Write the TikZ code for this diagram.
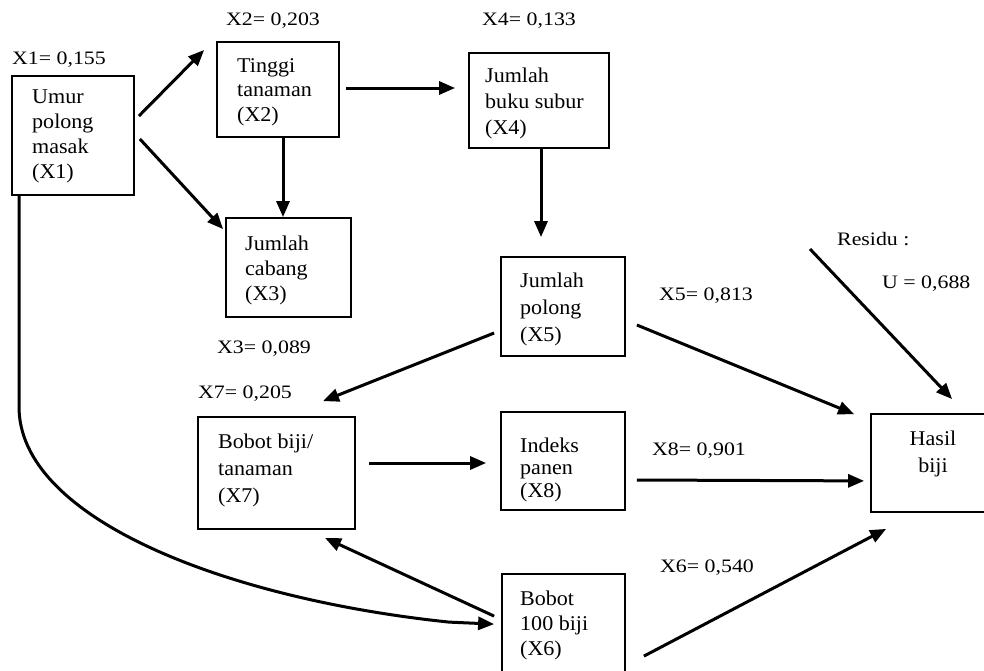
\documentclass[tikz,border=0pt]{standalone}
\usepackage{fontspec}
\usetikzlibrary{arrows.meta,calc}
\newfontfamily\boxfam[FakeStretch=1.05]{Liberation Serif}
\newfontfamily\labfam[FakeStretch=1.15]{Liberation Serif}
\tikzset{
  box/.style={draw, line width=1.8pt, inner sep=0pt},
  txt/.style={anchor=base west, inner sep=0pt, align=left, font=\boxfam\fontsize{21}{#1}\selectfont},
  lab/.style={anchor=base west, inner sep=0pt, font=\labfam\fontsize{19}{22}\selectfont},
  arr/.style={line width=3pt, -{Triangle[length=16pt,width=13pt]}}
}
\begin{document}
\begin{tikzpicture}[x=1pt,y=-1pt]
\useasboundingbox (0,0) rectangle (984,670);
% boxes
\node[box, minimum width=122pt, minimum height=119pt] (x1) at (73,135.5) {};
\node[box, minimum width=122pt, minimum height=95pt] (x2) at (278,89.5) {};
\node[box, minimum width=140pt, minimum height=95pt] (x4) at (539,100.5) {};
\node[box, minimum width=125pt, minimum height=99pt] (x3) at (288.5,267.5) {};
\node[box, minimum width=124pt, minimum height=99pt] (x5) at (563,306.5) {};
\node[box, minimum width=157pt, minimum height=112pt] (x7) at (276.5,473) {};
\node[box, minimum width=124pt, minimum height=98pt] (x8) at (563,461) {};
\node[box, minimum width=123pt, minimum height=102pt] (x6) at (563.5,625) {};
\node[box, minimum width=119pt, minimum height=98pt] (hasil) at (930.5,463) {};
% box texts (anchor = baseline of the last line)
\node[txt=25] (t1) at (32,178) {Umur\\polong\\masak\\(X1)};
\node[txt=24.5] (t2) at (237,121) {Tinggi\\tanaman\\(X2)};
\node[txt=26] (t4) at (485,134) {Jumlah\\buku subur\\(X4)};
\node[txt=25] (t3) at (245,300) {Jumlah\\cabang\\(X3)};
\node[txt=27] (t5) at (520,341) {Jumlah\\polong\\(X5)};
\node[txt=27] (t7) at (218,502) {Bobot biji/\\tanaman\\(X7)};
\node[txt=22.5] (t8) at (520,497) {Indeks\\panen\\(X8)};
\node[txt=25] (t6) at (520,655) {Bobot\\100 biji\\(X6)};
\node[anchor=base, inner sep=0pt, align=center, font=\boxfam\fontsize{21}{27}\selectfont] (th) at (933,472) {Hasil\\biji};
% labels
\node[lab] (l1) at (12,64) {X1= 0,155};
\node[lab] (l2) at (226,25) {X2= 0,203};
\node[lab] (l4) at (482,25) {X4= 0,133};
\node[lab] (l3) at (217,353) {X3= 0,089};
\node[lab] (l7) at (198,398) {X7= 0,205};
\node[lab] (l5) at (659,300) {X5= 0,813};
\node[lab] (lr) at (837,245) {Residu :};
\node[lab] (lu) at (882,288) {U = 0,688};
\node[lab] (l8) at (652,455) {X8= 0,901};
\node[lab] (l6) at (660,572) {X6= 0,540};
\coordinate (res) at (810,249);
% arrows
\draw[arr] ($(x1.east)+(4,-19.5)$) -- ($(x2.west)+(-12,-39.5)$);
\draw[arr] ($(x1.east)+(5,3.5)$) -- ($(x3.north west)+(-2,12)$);
\draw[arr] ($(x2.south)+(5,0)$) -- ($(x3.north)+(-5.5,0)$);
\draw[arr] ($(x2.east)+(6,-1.5)$) -- ($(x4.west)+(-13,-12.5)$);
\draw[arr] ($(x4.south)+(2,0)$) -- ($(x5.north)+(-22,-19)$);
\draw[arr] ($(x5.west)+(-6,26.5)$) -- ($(x7.north)+(46.5,-15)$);
\draw[arr] ($(x5.east)+(11,18.5)$) -- ($(hasil.north west)+(-16,1)$);
\draw[arr] (res) -- ($(hasil.north west)+(82,-14)$);
\draw[arr] ($(x7.east)+(13,-10)$) -- ($(x8.west)+(-14,2)$);
\draw[arr] ($(x8.east)+(11,19)$) -- ($(hasil.south west)+(-6,-32)$);
\draw[arr] ($(x6.north west)+(-7,43)$) -- ($(x7.south)+(48.5,8)$);
\draw[arr] ($(x6.north east)+(18,83)$) -- ($(hasil.south west)+(16,16)$);
\draw[arr] ($(x1.south west)+(8,0)$) -- ++(0,215) .. controls +(5,110) and +(-220,-23) .. ($(x6.north west)+(-52,49)$) -- ($(x6.north west)+(-7,51)$);
\end{tikzpicture}
\end{document}
